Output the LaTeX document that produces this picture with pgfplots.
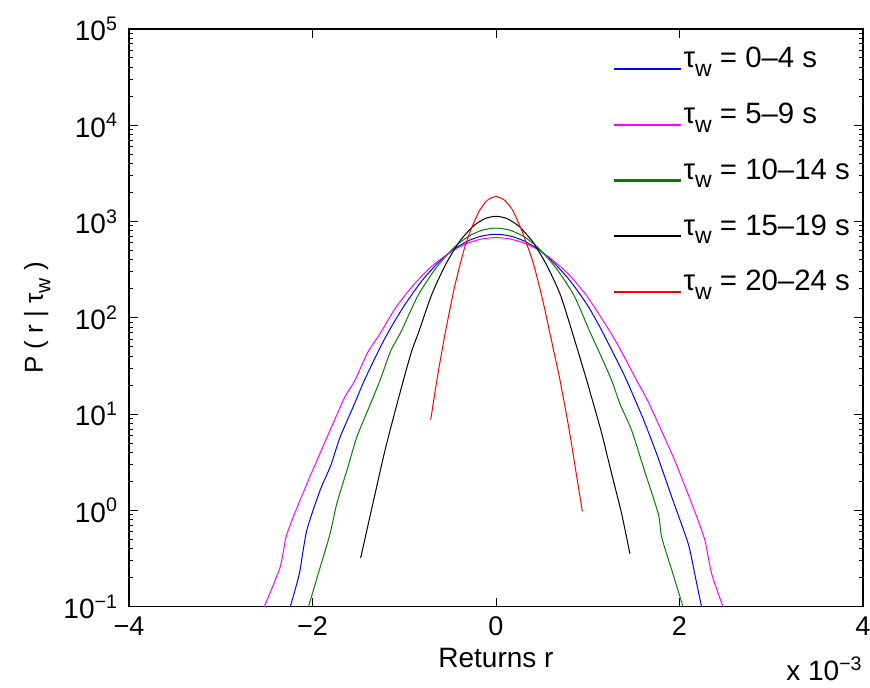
\documentclass[border=0pt]{standalone}
\usepackage{pgfplots}
\pgfplotsset{compat=1.18}
\usepackage{fontspec}
\setmainfont{Liberation Sans}
\definecolor{mblue}{rgb}{0,0,1}
\definecolor{mmag}{rgb}{1,0,1}
\definecolor{mgreen}{rgb}{0,0.5,0}
\definecolor{mred}{rgb}{1,0,0}
\newcommand\pw[1]{10\textsuperscript{#1}}
\newcommand\tw{τ\raisebox{-0.55ex}{\fontsize{11.5pt}{12pt}\selectfont w}}
\newcommand\twl{τ\raisebox{-0.55ex}{\fontsize{10.5pt}{11pt}\selectfont w}}
\pgfplotsset{mleg/.style={legend image code/.code={\fill[#1] (0pt,-1.3pt) rectangle (33pt,-0.7pt);}}}
\begin{document}
\begin{tikzpicture}
\path[use as bounding box] (-64.5pt,-40.65pt) rectangle (370.5pt,303.35pt);
\begin{axis}[
  name=ax,
  at={(0,0)}, anchor=south west,
  scale only axis, width=367pt, height=288.85pt,
  ymode=log, xmin=-4, xmax=4, ymin=0.1, ymax=100000,
  axis line style={line width=0.6pt},
  every tick/.style={black, line width=0.5pt},
  major tick length=4.5pt, minor tick length=2.2pt,
  xtick={-4,-2,0,2,4}, xticklabels={−4,−2,0,2,4},
  ytick={0.1,1,10,100,1000,10000,100000},
  yticklabels={\pw{−1},\pw{0},\pw{1},\pw{2},\pw{3},\pw{4},\pw{5}},
  minor ytick={0.2,0.3,0.4,0.5,0.6,0.7,0.8,0.9,2,3,4,5,6,7,8,9,20,30,40,50,60,70,80,90,200,300,400,500,600,700,800,900,2000,3000,4000,5000,6000,7000,8000,9000,20000,30000,40000,50000,60000,70000,80000,90000},
  xticklabel style={font=\fontsize{13.5pt}{15pt}\selectfont, yshift=-1.5pt},
  yticklabel style={font=\fontsize{14pt}{16pt}\selectfont, xshift=-2pt},
  xlabel={Returns r},
  xlabel style={font=\fontsize{14pt}{16pt}\selectfont, at={(axis description cs:0.5,-0.088)}, anchor=center},
  ylabel={P ( r | \twl{} )},
  ylabel style={font=\fontsize{13pt}{15pt}\selectfont, at={(axis description cs:-0.125,0.5)}, anchor=center},
  legend style={at={(axis description cs:0.995,0.981)}, anchor=north east, draw=none, fill=none,
    text=black, font=\fontsize{14.7pt}{16pt}\selectfont, row sep=5.1pt,
    nodes={inner sep=1.5pt, text depth=9.5pt}},
  legend cell align=left,
  every axis plot/.append style={line width=0.5pt, no markers},
]
\addplot[draw=mblue, smooth, tension=0.4, mleg=mblue] coordinates {
(-2.245,0.098) (-2.144,0.219) (-2.063,0.617) (-1.918,1.61) (-1.8,2.95) (-1.700,5.75)
(-1.55,12.3) (-1.435,22.4) (-1.264,48.9) (-1.163,74.1) (-1.0,134) (-0.8,248) (-0.6,400)
(-0.45,522) (-0.3,633) (-0.15,710) (0,738) (0.15,710) (0.3,633) (0.45,522) (0.6,400)
(0.8,248) (1.0,134) (1.152,74.1) (1.351,31.3) (1.424,22.4) (1.6,9.14) (1.751,3.87)
(1.93,1.26) (2.096,0.448) (2.17,0.21) (2.242,0.098)};
\addlegendentry{\tw{} = 0–4 s}
\addplot[draw=mmag, smooth, tension=0.4, mleg=mmag] coordinates {
(-2.529,0.098) (-2.354,0.256) (-2.289,0.525) (-2.2,0.9) (-2.046,2.04) (-1.9,4.29)
(-1.809,6.76) (-1.65,14.9) (-1.537,22.4) (-1.4,43.5) (-1.264,68.4) (-1.1,125) (-0.9,219)
(-0.7,343) (-0.472,500) (-0.3,601) (-0.15,661) (0,682) (0.15,661) (0.3,601) (0.444,520)
(0.6,411) (0.8,278) (1.0,164) (1.235,74.1) (1.351,47.8) (1.534,22.4) (1.65,14.0)
(1.787,7.32) (1.95,3.27) (2.078,1.61) (2.19,0.85) (2.278,0.485) (2.351,0.219) (2.477,0.098)};
\addlegendentry{\tw{} = 5–9 s}
\addplot[draw=mgreen, smooth, tension=0.4, mleg=mgreen] coordinates {
(-2.046,0.098) (-1.92,0.25) (-1.809,0.570) (-1.736,1.17) (-1.62,2.7) (-1.518,5.75)
(-1.4,10.8) (-1.264,22.4) (-1.15,44.7) (-1.028,74.1) (-0.85,171) (-0.65,333) (-0.45,546)
(-0.3,701) (-0.15,815) (0,857) (0.15,815) (0.3,701) (0.45,546) (0.65,333) (0.85,171)
(1.017,74.1) (1.15,39) (1.261,22.4) (1.351,12.8) (1.479,6.76) (1.62,2.56) (1.769,0.92)
(1.806,0.525) (1.92,0.233) (2.041,0.098)};
\addlegendentry{\tw{} = 10–14 s}
\addplot[draw=black, smooth, tension=0.4, mleg=black] coordinates {
(-1.475,0.321) (-1.35,1.09) (-1.228,3.56) (-1.155,6.76) (-1.010,22.4) (-0.92,44.7)
(-0.836,74.1) (-0.7,175) (-0.55,357) (-0.4,616) (-0.25,894) (-0.12,1074) (0,1135)
(0.12,1074) (0.25,894) (0.4,616) (0.55,357) (0.7,175) (0.825,74.1) (0.989,22.4)
(1.144,6.76) (1.207,3.87) (1.29,1.86) (1.370,0.92) (1.460,0.353)};
\addlegendentry{\tw{} = 15–19 s}
\addplot[draw=mred, smooth, tension=0.4, mleg=mred] coordinates {
(-0.712,8.73) (-0.63,27.2) (-0.548,74.1) (-0.45,213) (-0.35,504) (-0.276,811)
(-0.18,1300) (-0.09,1675) (0,1820) (0.09,1675) (0.18,1320) (0.280,811) (0.4,387)
(0.5,167) (0.581,74.1) (0.698,22.4) (0.799,6.76) (0.87,2.57) (0.941,0.98)};
\addlegendentry{\tw{} = 20–24 s}
\end{axis}
\node[anchor=base east, inner sep=0pt, font=\fontsize{14pt}{16pt}\selectfont] at ([yshift=-37pt]ax.south east) {x \pw{−3}};
\end{tikzpicture}
\end{document}
